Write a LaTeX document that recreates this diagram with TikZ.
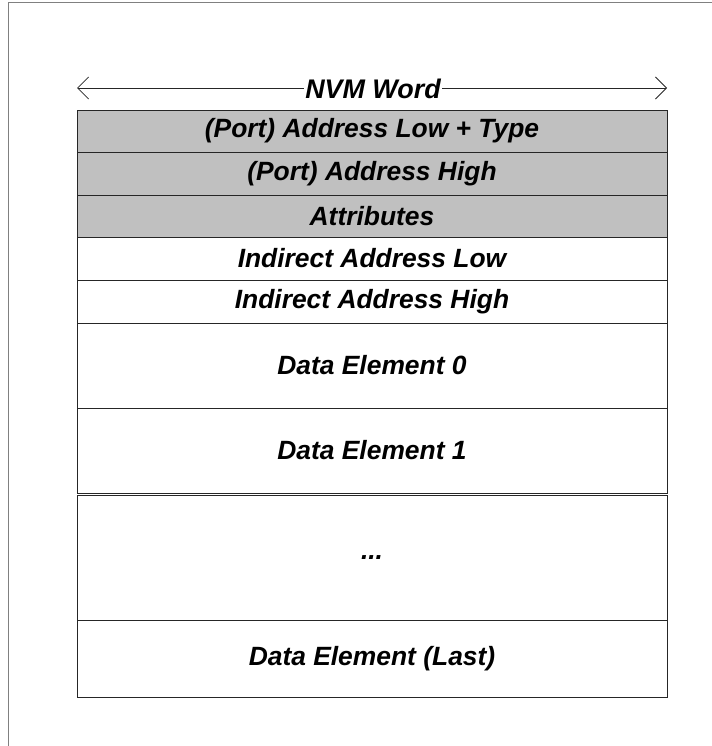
\documentclass[tikz,border=0pt]{standalone}
\usepackage{fontspec}
\setmainfont{Liberation Sans}
\usepackage{xcolor}
\usetikzlibrary{arrows.meta,positioning}

\definecolor{rowgray}{HTML}{C0C0C0}
\definecolor{framegray}{HTML}{808080}

\tikzset{
    fieldrow/.style={draw=black!85, line width=0.9bp, minimum width=590bp, inner sep=0pt, outer sep=0pt,
        font=\fontsize{26.5}{30}\selectfont\bfseries\itshape},
    hdrrow/.style={fieldrow, fill=rowgray},
}

\begin{document}
\begin{tikzpicture}[x=1bp, y=-1bp]
    \useasboundingbox (0,0) rectangle (712,746);
    % outer frame
    \draw[framegray, line width=1bp] (8,746) -- (8,3) -- (712,3);

    % width arrow
    \coordinate (wl) at (77,88);
    \coordinate (wr) at (667,88);
    \draw[{Straight Barb[length=11bp, width=22bp]}-{Straight Barb[length=11bp, width=22bp]}, black!85, line width=0.8bp] (wl) -- (wr);
    \node[fill=white, inner sep=1bp, font=\fontsize{27}{30}\selectfont\bfseries\itshape] (word) at (373,89) {NVM Word};

    % header rows
    \node[hdrrow, minimum height=42bp, anchor=north] (alow) at (372,110) {(Port) Address Low + Type};
    \node[hdrrow, minimum height=43bp, below=0pt of alow] (ahigh) {(Port) Address High};
    \node[hdrrow, minimum height=42bp, below=0pt of ahigh] (attr) {Attributes};

    % indirect address
    \node[fieldrow, minimum height=43bp, below=0pt of attr] (ilow) {Indirect Address Low};
    \node[fieldrow, minimum height=43bp, below=0pt of ilow] (ihigh) {Indirect Address High};

    % data elements
    \node[fieldrow, minimum height=85bp, below=0pt of ihigh] (d0) {Data Element 0};
    \node[fieldrow, minimum height=85bp, below=0pt of d0] (d1) {Data Element 1};
    \node[fieldrow, minimum height=125bp, below=2.5bp of d1] (dots) {...};
    \node[fieldrow, minimum height=77bp, below=0pt of dots] (dlast) {Data Element (Last)};
\end{tikzpicture}
\end{document}
